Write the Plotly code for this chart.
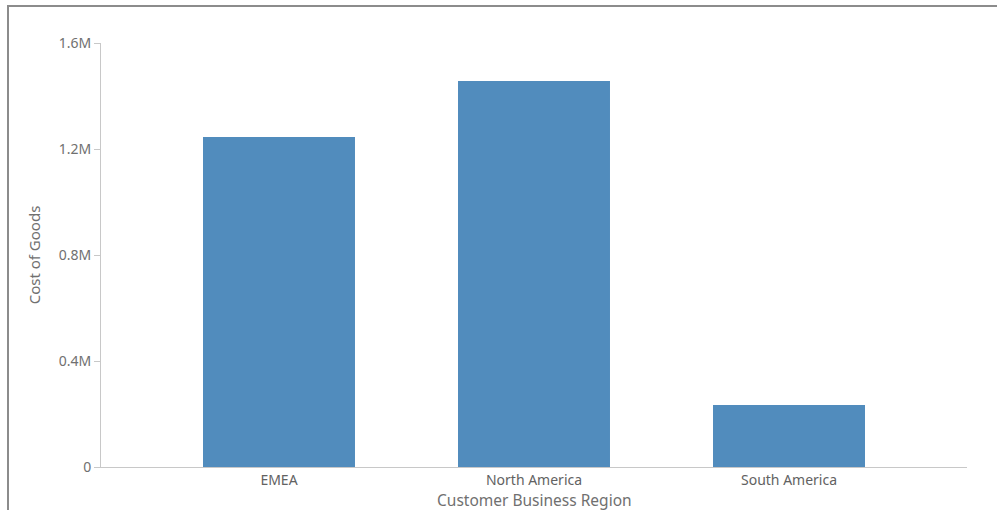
import plotly.graph_objects as go

regions = ["EMEA", "North America", "South America"]
cost_of_goods = [1245000, 1457000, 234000]
y_tick_vals = [0, 400000, 800000, 1200000, 1600000]
y_tick_text = ["0", "0.4M", "0.8M", "1.2M", "1.6M"]
x_title = "Customer Business Region"
y_title = "Cost of Goods"

W, H = 998, 510
L, R, T, B = 101, 31, 43, 43
pw, ph = W - L - R, H - T - B

def px(x):
    return (x - L) / pw

def py(y):
    return (H - B - y) / ph

fig = go.Figure(go.Bar(
    x=regions, y=cost_of_goods,
    marker=dict(color="#518cbd", line=dict(width=0)),
    width=0.596,
))

font = "Noto Sans, Liberation Sans, Arial, sans-serif"
fig.update_layout(
    width=W, height=H,
    margin=dict(l=L, r=R, t=T, b=B, autoexpand=False),
    paper_bgcolor="white", plot_bgcolor="white",
    showlegend=False,
    font=dict(family=font, size=14, color="#707070"),
    xaxis=dict(
        range=[-0.698, 2.698],
        automargin=False,
        showline=True, linecolor="#c8c8c8", linewidth=1,
        ticks="", showgrid=False, zeroline=False,
        tickfont=dict(size=14, color="#626262"),
    ),
    yaxis=dict(
        range=[0, 1600000],
        automargin=False,
        tickvals=y_tick_vals, ticktext=y_tick_text,
        showline=True, linecolor="#c8c8c8", linewidth=1,
        ticks="outside", ticklen=6, tickcolor="#c8c8c8",
        showgrid=False, zeroline=False,
        tickfont=dict(size=14, color="#707070"),
        title=dict(text=y_title, font=dict(size=15, color="#707070"), standoff=14),
    ),
    annotations=[
        dict(text=x_title, xref="paper", yref="paper", x=0.5, y=py(500),
             xanchor="center", yanchor="middle", showarrow=False,
             font=dict(size=15.5, color="#707070")),
    ],
    shapes=[
        dict(type="line", xref="paper", yref="paper",
             x0=px(7), x1=px(997), y0=py(6), y1=py(6),
             line=dict(color="#8c8c8c", width=2)),
        dict(type="line", xref="paper", yref="paper",
             x0=px(8), x1=px(8), y0=py(5), y1=py(515),
             line=dict(color="#8c8c8c", width=2)),
    ],
)

fig.write_html(
    "out.html",
    config={"displayModeBar": False},
    post_script="document.body.style.margin='0';document.body.style.overflow='hidden';",
)
